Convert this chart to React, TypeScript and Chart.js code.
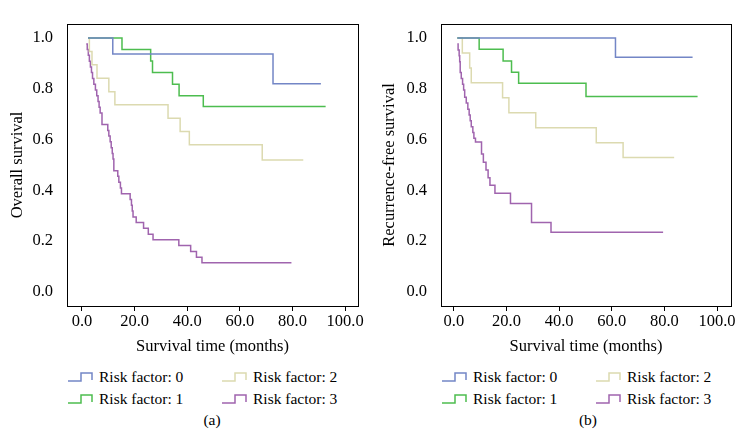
import React, { useEffect, useRef } from "react";
import Chart from "chart.js/auto";

// ---------- data ----------
const seriesLabels = ["Risk factor: 0", "Risk factor: 1", "Risk factor: 2", "Risk factor: 3"];
const seriesColors = ["#7386c6", "#4dbd4f", "#dcdab0", "#a064ae"];
const xTicks = [0, 20, 40, 60, 80, 100];
const yTicks = [0, 0.2, 0.4, 0.6, 0.8, 1.0];

// Panel (a): overall survival
const a0Time = [2.3, 11.7, 72.6, 90.8];
const a0Surv = [1.0, 0.9375, 0.82, 0.82];
const a1Time = [2.3, 15.2, 26.1, 26.8, 34.4, 36.9, 46.1, 92.6];
const a1Surv = [1.0, 0.955, 0.91, 0.864, 0.818, 0.773, 0.73, 0.73];
const a2Time = [2.3, 2.8, 3.8, 5.7, 10.2, 12.5, 32.7, 37.3, 40.8, 68.5, 84.1];
const a2Surv = [1.0, 0.947, 0.895, 0.842, 0.789, 0.737, 0.684, 0.632, 0.58, 0.52, 0.52];
const a3Time = [1.6, 2.0, 2.4, 2.8, 3.2, 3.6, 4.0, 4.5, 5.1, 5.6, 6.1, 6.5, 6.9, 7.6, 9.8, 10.2, 10.7, 11.1, 11.5, 11.8, 12.1, 13.6, 14.0, 14.6, 15.0, 18.3, 18.8, 19.1, 19.4, 20.6, 23.4, 25.2, 27.0, 36.8, 41.3, 43.5, 45.6, 79.6];
const a3Surv = [0.977, 0.955, 0.932, 0.909, 0.886, 0.864, 0.841, 0.818, 0.795, 0.773, 0.75, 0.727, 0.705, 0.659, 0.636, 0.614, 0.591, 0.568, 0.545, 0.523, 0.477, 0.455, 0.432, 0.409, 0.386, 0.364, 0.341, 0.318, 0.295, 0.273, 0.25, 0.227, 0.205, 0.182, 0.159, 0.136, 0.114, 0.114];

// Panel (b): recurrence-free survival
const b0Time = [1.3, 61.4, 90.7];
const b0Surv = [1.0, 0.925, 0.925];
const b1Time = [1.3, 9.6, 18.7, 21.9, 24.6, 50.2, 92.6];
const b1Surv = [1.0, 0.956, 0.91, 0.865, 0.822, 0.77, 0.77];
const b2Time = [1.3, 3.2, 6.0, 6.6, 18.5, 20.9, 31.1, 54.1, 64.3, 83.7];
const b2Surv = [1.0, 0.941, 0.882, 0.824, 0.765, 0.706, 0.647, 0.588, 0.529, 0.529];
const b3Time = [1.3, 1.6, 2.0, 2.2, 2.4, 2.8, 3.3, 3.7, 4.1, 4.7, 5.3, 5.8, 6.2, 6.6, 7.2, 7.6, 8.2, 10.5, 11.2, 12.2, 13.0, 13.7, 15.6, 21.5, 29.5, 36.9, 79.5];
const b3Surv = [0.977, 0.953, 0.93, 0.907, 0.864, 0.841, 0.818, 0.795, 0.767, 0.744, 0.72, 0.697, 0.674, 0.651, 0.628, 0.605, 0.59, 0.543, 0.511, 0.48, 0.45, 0.42, 0.388, 0.348, 0.273, 0.235, 0.235];

const panelA = { title: "Overall survival", times: [a0Time, a1Time, a2Time, a3Time], survs: [a0Surv, a1Surv, a2Surv, a3Surv], xMin: -5.7, xMax: 104.9, leftW: 67, rightPad: 14 };
const panelB = { title: "Recurrence-free survival", times: [b0Time, b1Time, b2Time, b3Time], survs: [b0Surv, b1Surv, b2Surv, b3Surv], xMin: -4.9, xMax: 105.3, leftW: 69, rightPad: 13 };

const FONT = "'Liberation Serif', 'Times New Roman', serif";
const AXIS_SIZE = 16.5;

const boxPlugin = {
  id: "box",
  afterDraw(chart: any) {
    const { ctx, chartArea } = chart;
    ctx.save();
    ctx.strokeStyle = "#000";
    ctx.lineWidth = 1;
    ctx.strokeRect(Math.round(chartArea.left) + 0.5, Math.round(chartArea.top) + 0.5, Math.round(chartArea.right - chartArea.left), Math.round(chartArea.bottom - chartArea.top));
    ctx.restore();
  },
};

function KMChart({ panel }: { panel: any }) {
  const ref = useRef<HTMLCanvasElement>(null);
  useEffect(() => {
    const datasets = panel.times.map((t: number[], i: number) => ({
      label: seriesLabels[i],
      data: t.map((x, j) => ({ x, y: panel.survs[i][j] })),
      borderColor: seriesColors[i],
      backgroundColor: seriesColors[i],
      borderWidth: 1.5,
      pointRadius: 0,
      stepped: "before",
      fill: false,
    }));
    const chart = new Chart(ref.current!, {
      type: "line",
      data: { datasets },
      plugins: [boxPlugin],
      options: {
        animation: false,
        responsive: false,
        layout: { padding: { left: 0, right: panel.rightPad, top: 10, bottom: 0 } },
        plugins: { legend: { display: false }, tooltip: { enabled: false } },
        scales: {
          x: {
            type: "linear",
            min: panel.xMin,
            max: panel.xMax,
            afterBuildTicks: (s: any) => { s.ticks = xTicks.map((v) => ({ value: v })); },
            afterFit: (s: any) => { s.height = 56; },
            ticks: { callback: (v: any) => Number(v).toFixed(1), color: "#000", font: { family: FONT, size: AXIS_SIZE }, padding: 1, maxRotation: 0, autoSkip: false },
            grid: { display: true, drawOnChartArea: false, drawTicks: true, tickLength: 5, color: "#000" },
            border: { display: false },
            title: { display: true, text: "Survival time (months)", color: "#000", font: { family: FONT, size: AXIS_SIZE }, padding: { top: 0, bottom: 5 } },
          },
          y: {
            type: "linear",
            min: -0.056,
            max: 1.056,
            afterBuildTicks: (s: any) => { s.ticks = yTicks.map((v) => ({ value: v })); },
            afterFit: (s: any) => { s.width = panel.leftW; },
            ticks: { callback: (v: any) => Number(v).toFixed(1), color: "#000", font: { family: FONT, size: AXIS_SIZE }, padding: 14 },
            grid: { display: false, drawTicks: false },
            border: { display: false },
            title: { display: true, text: panel.title, color: "#000", font: { family: FONT, size: AXIS_SIZE }, padding: { top: 8, bottom: 0 } },
          },
        },
      } as any,
    });
    return () => chart.destroy();
  }, [panel]);
  return <canvas ref={ref} width={372} height={362} style={{ width: 372, height: 362, display: "block" }} />;
}

function StepIcon({ color }: { color: string }) {
  return (
    <svg width={26} height={12} style={{ display: "block" }}>
      <path d="M0,10 H13 V2 H24 V9" stroke={color} strokeWidth={1.5} fill="none" />
    </svg>
  );
}

function LegendItem({ i, x, y }: { i: number; x: number; y: number }) {
  return (
    <div style={{ position: "absolute", left: x, top: y - 9, height: 18, display: "flex", alignItems: "center", fontFamily: FONT, fontSize: 15.5, color: "#000", whiteSpace: "nowrap" }}>
      <StepIcon color={seriesColors[i]} />
      <span style={{ marginLeft: 5 }}>{seriesLabels[i]}</span>
    </div>
  );
}

export default function App() {
  return (
    <div style={{ position: "fixed", left: 0, top: 0, width: 744, height: 443, background: "#fff", overflow: "hidden" }}>
      <div style={{ position: "absolute", left: 0, top: 0 }}><KMChart panel={panelA} /></div>
      <div style={{ position: "absolute", left: 372, top: 0 }}><KMChart panel={panelB} /></div>
      <LegendItem i={0} x={68} y={377} />
      <LegendItem i={1} x={68} y={399} />
      <LegendItem i={2} x={222} y={377} />
      <LegendItem i={3} x={222} y={399} />
      <LegendItem i={0} x={442} y={377} />
      <LegendItem i={1} x={442} y={399} />
      <LegendItem i={2} x={596} y={377} />
      <LegendItem i={3} x={596} y={399} />
      <div style={{ position: "absolute", left: 192, width: 40, top: 411, textAlign: "center", fontFamily: FONT, fontSize: 15.5 }}>(a)</div>
      <div style={{ position: "absolute", left: 568, width: 40, top: 411, textAlign: "center", fontFamily: FONT, fontSize: 15.5 }}>(b)</div>
    </div>
  );
}
